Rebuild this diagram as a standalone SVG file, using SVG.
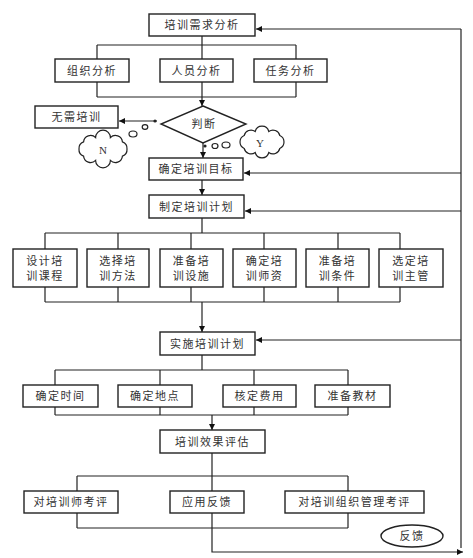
<svg xmlns="http://www.w3.org/2000/svg" width="473" height="558" viewBox="0 0 473 558">
<defs>
<marker id="ah" viewBox="0 0 10 10" refX="10" refY="5" markerWidth="6" markerHeight="6" markerUnits="userSpaceOnUse" orient="auto">
<path d="M0,0 L10,5 L0,10 z" fill="#111"/>
</marker>
</defs>
<style>
.b{fill:#fff;stroke:#222;stroke-width:1.4}
.l{fill:none;stroke:#222;stroke-width:1.2}
.a{fill:none;stroke:#222;stroke-width:1.2;marker-end:url(#ah)}
.t{font-family:"Liberation Serif","Noto Sans CJK SC",serif;font-size:11px;letter-spacing:1.5px;fill:#333;text-anchor:middle;dominant-baseline:central}
.c{fill:#fff;stroke:#222;stroke-width:1.2}
</style>
<rect width="473" height="558" fill="#fff"/>
<g id="connectors">
<path class="l" d="M461,29 V548"/>
<path class="a" d="M461,29 H256"/>
<path class="a" d="M461,173 H244"/>
<path class="a" d="M461,211 H245"/>
<path class="a" d="M461,340 H256"/>
<path class="l" d="M202,36 V59 M97,45 H296 M97,45 V97 M296,45 V97 M97,97 H296"/>
<path class="a" d="M202,82 V106"/>
<path class="a" d="M157,121 H119"/>
<path class="a" d="M203,143 V158"/>
<path class="a" d="M202,180 V195"/>
<path class="l" d="M202,218 V233 M45,233 H400 M45,233 V302 M118,233 V302 M191,233 V302 M264,233 V302 M338,233 V302 M400,233 V302 M45,302 H400"/>
<path class="a" d="M202,302 V332"/>
<path class="l" d="M202,355 V370 M55,370 H348 M55,370 V415 M160,370 V415 M254,370 V415 M348,370 V415 M55,415 H348"/>
<path class="a" d="M212,415 V430"/>
<path class="l" d="M212,453 V476 M77,476 H348 M77,476 V528 M212,476 V528 M348,476 V528 M77,528 H348"/>
<path class="a" d="M212,528 V552 H463"/>
</g>
<g id="n-need"><rect class="b" x="149" y="14" width="106" height="22"/><text class="t" x="202" y="25">培训需求分析</text></g>
<g id="n-org"><rect class="b" x="55" y="59" width="74" height="23"/><text class="t" x="92" y="70.5">组织分析</text></g>
<g id="n-person"><rect class="b" x="160" y="59" width="73" height="23"/><text class="t" x="196.5" y="70.5">人员分析</text></g>
<g id="n-task"><rect class="b" x="254" y="59" width="73" height="23"/><text class="t" x="290.5" y="70.5">任务分析</text></g>
<g id="n-judge"><path class="b" d="M203,106 L246,124 L203,143 L161,124 Z"/><text class="t" x="204" y="124">判断</text></g>
<g id="n-none"><rect class="b" x="35" y="106" width="83" height="22"/><text class="t" x="76.5" y="117">无需培训</text></g>
<g id="n-N">
<circle cx="155" cy="121" r="1.6" fill="#222"/>
<ellipse class="c" cx="145" cy="127" rx="2.8" ry="2.3"/>
<ellipse class="c" cx="133" cy="134" rx="4" ry="3"/>
<path class="c" d="M127,149 A7,7 0 0 1 122.4,156.1 A7,7 0 0 1 110.4,160.4 A7,7 0 0 1 95.6,160.4 A7,7 0 0 1 83.6,156.1 A7,7 0 0 1 79,149 A7,7 0 0 1 83.6,141.9 A7,7 0 0 1 95.6,137.6 A7,7 0 0 1 110.4,137.6 A7,7 0 0 1 122.4,141.9 A7,7 0 0 1 127,149 Z"/>
<text class="t" x="103" y="150" style="letter-spacing:0">N</text>
</g>
<g id="n-Y">
<circle cx="205" cy="146" r="1.6" fill="#222"/>
<ellipse class="c" cx="215" cy="146" rx="3" ry="2.5"/>
<ellipse class="c" cx="226" cy="145" rx="4" ry="3"/>
<path class="c" d="M284,142 A7,7 0 0 1 279.8,148.5 A7,7 0 0 1 268.8,152.5 A7,7 0 0 1 255.2,152.5 A7,7 0 0 1 244.2,148.5 A7,7 0 0 1 240,142 A7,7 0 0 1 244.2,135.5 A7,7 0 0 1 255.2,131.5 A7,7 0 0 1 268.8,131.5 A7,7 0 0 1 279.8,135.5 A7,7 0 0 1 284,142 Z"/>
<text class="t" x="260" y="143" style="letter-spacing:0">Y</text>
</g>
<g id="n-goal"><rect class="b" x="149" y="158" width="94" height="22"/><text class="t" x="196" y="169">确定培训目标</text></g>
<g id="n-plan"><rect class="b" x="149" y="195" width="95" height="23"/><text class="t" x="196.5" y="206.5">制定培训计划</text></g>
<g id="n-p1"><rect class="b" x="13" y="249" width="64" height="38"/><text class="t" x="45" y="261">设计培</text><text class="t" x="45" y="276">训课程</text></g>
<g id="n-p2"><rect class="b" x="87" y="249" width="62" height="38"/><text class="t" x="118" y="261">选择培</text><text class="t" x="118" y="276">训方法</text></g>
<g id="n-p3"><rect class="b" x="160" y="249" width="63" height="38"/><text class="t" x="191.5" y="261">准备培</text><text class="t" x="191.5" y="276">训设施</text></g>
<g id="n-p4"><rect class="b" x="233" y="249" width="63" height="38"/><text class="t" x="264.5" y="261">确定培</text><text class="t" x="264.5" y="276">训师资</text></g>
<g id="n-p5"><rect class="b" x="306" y="249" width="63" height="38"/><text class="t" x="337.5" y="261">准备培</text><text class="t" x="337.5" y="276">训条件</text></g>
<g id="n-p6"><rect class="b" x="379" y="249" width="64" height="38"/><text class="t" x="411" y="261">选定培</text><text class="t" x="411" y="276">训主管</text></g>
<g id="n-impl"><rect class="b" x="160" y="332" width="95" height="23"/><text class="t" x="207.5" y="343.5">实施培训计划</text></g>
<g id="n-i1"><rect class="b" x="23" y="385" width="75" height="22"/><text class="t" x="60.5" y="396">确定时间</text></g>
<g id="n-i2"><rect class="b" x="118" y="385" width="74" height="22"/><text class="t" x="155" y="396">确定地点</text></g>
<g id="n-i3"><rect class="b" x="223" y="385" width="73" height="22"/><text class="t" x="259.5" y="396">核定费用</text></g>
<g id="n-i4"><rect class="b" x="315" y="385" width="75" height="22"/><text class="t" x="352.5" y="396">准备教材</text></g>
<g id="n-eval"><rect class="b" x="160" y="430" width="105" height="23"/><text class="t" x="212.5" y="441.5">培训效果评估</text></g>
<g id="n-e1"><rect class="b" x="24" y="491" width="94" height="22"/><text class="t" x="71" y="502">对培训师考评</text></g>
<g id="n-e2"><rect class="b" x="170" y="491" width="74" height="22"/><text class="t" x="207" y="502">应用反馈</text></g>
<g id="n-e3"><rect class="b" x="285" y="491" width="139" height="22"/><text class="t" x="354.5" y="502">对培训组织管理考评</text></g>
<g id="n-fb"><ellipse class="b" cx="412" cy="536" rx="31" ry="11"/><text class="t" x="412" y="536">反馈</text></g>
</svg>
